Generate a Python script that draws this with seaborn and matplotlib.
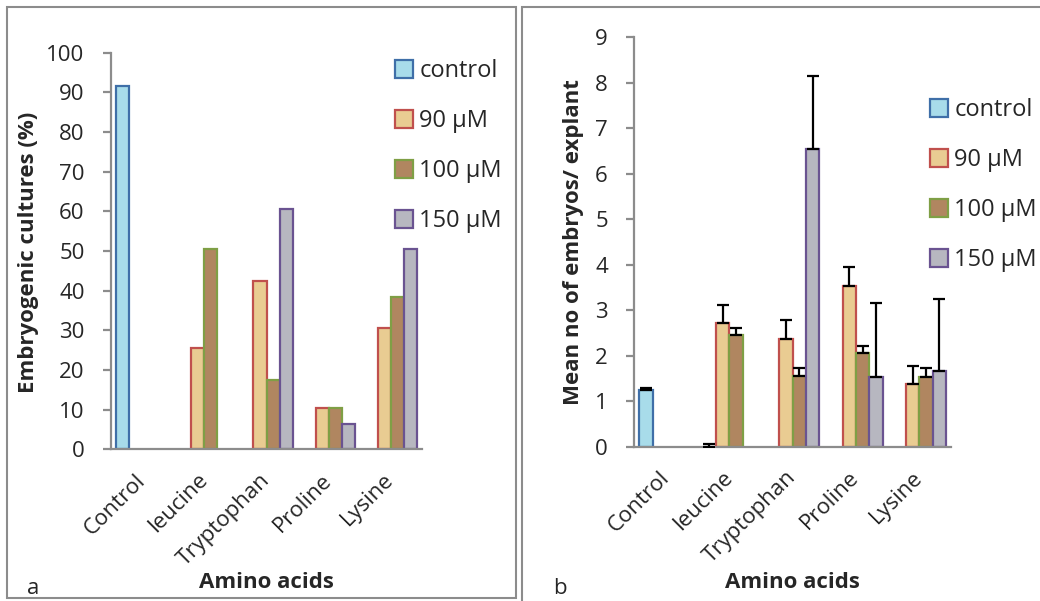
import numpy as np
import pandas as pd
import matplotlib
matplotlib.use("Agg")
import matplotlib.pyplot as plt
import seaborn as sns
from matplotlib.patches import Rectangle, Patch

categories = ["Control", "leucine", "Tryptophan", "Proline", "Lysine"]
series = ["control", "90 µM", "100 µM", "150 µM"]

# Panel a: embryogenic cultures (%)
pct_control = [91.5, 0, 0, 0, 0]
pct_90 = [0, 25.5, 42.5, 10.5, 30.5]
pct_100 = [0, 50.5, 17.5, 10.5, 38.5]
pct_150 = [0, 0, 60.5, 6.5, 50.5]

# Panel b: mean no of embryos / explant, with upper error bars
mean_control = [1.25, 0, 0, 0, 0]
mean_90 = [0, 2.73, 2.36, 3.54, 1.37]
mean_100 = [0, 2.45, 1.55, 2.05, 1.54]
mean_150 = [0, 0, 6.55, 1.54, 1.66]
err_control = [0.03, 0.07, 0, 0, 0]
err_90 = [0, 0.39, 0.42, 0.42, 0.41]
err_100 = [0, 0.17, 0.17, 0.17, 0.18]
err_150 = [0, 0, 1.60, 1.62, 1.59]

fills = ["#a8dcea", "#e9cc92", "#b08660", "#b7b7c0"]
edges = ["#3f6fa8", "#c0504d", "#7f9f45", "#6a5391"]

sns.set_style("white")
plt.rcParams["font.family"] = ["Open Sans", "DejaVu Sans"]

W, H = 1040, 601
fig = plt.figure(figsize=(W / 100, H / 100), dpi=100)


def long_df(vals, errs=None):
    rows = []
    for s_i, s in enumerate(series):
        for c_i, c in enumerate(categories):
            rows.append({"category": c, "series": s, "value": vals[s_i][c_i],
                         "err": (errs[s_i][c_i] if errs else 0.0)})
    return pd.DataFrame(rows)


def draw_panel(ax, df, ymax, ystep, with_err):
    sns.barplot(data=df, x="category", y="value", hue="series", order=categories,
                hue_order=series, palette=fills, width=0.84, errorbar=None,
                ax=ax, legend=False, linewidth=1.6, saturation=1)
    bar_conts = list(ax.containers)[:len(series)]
    for s_i, cont in enumerate(bar_conts):
        for p in cont.patches:
            p.set_edgecolor(edges[s_i])
            if p.get_height() == 0:
                p.set_visible(False)
    if with_err:
        for s_i, cont in enumerate(bar_conts):
            sub = df[df["series"] == series[s_i]].set_index("category").loc[categories]
            xs, ys, es = [], [], []
            for p, v, e in zip(cont.patches, sub["value"], sub["err"]):
                if e > 0:
                    xs.append(p.get_x() + p.get_width() / 2)
                    ys.append(v)
                    es.append(e)
            if xs:
                ax.errorbar(xs, ys, yerr=[np.zeros(len(es)), es], fmt="none",
                            ecolor="black", elinewidth=1.6, capsize=4.5,
                            capthick=1.6, zorder=5)
    ax.set_xlim(-0.5, len(categories) - 0.5)
    ax.set_ylim(0, ymax)
    ax.set_yticks(np.arange(0, ymax + ystep / 2, ystep))
    ax.set_xlabel("")
    ax.set_ylabel("")
    for sp in ["top", "right"]:
        ax.spines[sp].set_visible(False)
    for sp in ["left", "bottom"]:
        ax.spines[sp].set_color("#8c8c8c")
        ax.spines[sp].set_linewidth(1.6)
    ax.tick_params(axis="y", length=6, width=1.6, color="#8c8c8c",
                   labelsize=16, pad=13, direction="out", left=True)
    ax.tick_params(axis="x", length=0, labelsize=16, pad=20)
    ax.set_xticks(range(len(categories)))
    ax.set_xticklabels(categories, rotation=45, ha="right", va="center",
                       rotation_mode="anchor")
    handles = [Patch(facecolor=fills[i], edgecolor=edges[i], linewidth=1.6,
                     label=series[i]) for i in range(len(series))]
    return handles


LEG = dict(frameon=False, fontsize=17, borderpad=0, borderaxespad=0,
           handlelength=0.78, handleheight=0.78, handletextpad=0.25,
           labelspacing=1.10)

# Panel a
ax1 = fig.add_axes([111 / W, 1 - 449.3 / H, 311 / W, (449.3 - 52.6) / H])
df1 = long_df([pct_control, pct_90, pct_100, pct_150])
h1 = draw_panel(ax1, df1, 100, 10, False)
ax1.legend(handles=h1, loc="upper left", bbox_to_anchor=(395 / W, 1 - 59 / H),
           bbox_transform=fig.transFigure, **LEG)

# Panel b
ax2 = fig.add_axes([634.3 / W, 1 - 446.7 / H, 316.7 / W, (446.7 - 37.3) / H])
df2 = long_df([mean_control, mean_90, mean_100, mean_150],
              [err_control, err_90, err_100, err_150])
h2 = draw_panel(ax2, df2, 9, 1, True)
ax2.legend(handles=h2, loc="upper left", bbox_to_anchor=(930 / W, 1 - 98 / H),
           bbox_transform=fig.transFigure, **LEG)

# Axis titles
fig.text(29 / W, 1 - 252 / H, "Embryogenic cultures (%)", rotation=90,
         ha="center", va="center", fontsize=16, fontweight="bold")
fig.text(573 / W, 1 - 242 / H, "Mean no of embryos/ explant", rotation=90,
         ha="center", va="center", fontsize=16, fontweight="bold")
fig.text(266 / W, 1 - 582 / H, "Amino acids", ha="center", va="center",
         fontsize=16, fontweight="bold")
fig.text(792 / W, 1 - 582 / H, "Amino acids", ha="center", va="center",
         fontsize=16, fontweight="bold")
fig.text(33 / W, 1 - 588 / H, "a", ha="center", va="center", fontsize=16)
fig.text(560 / W, 1 - 588 / H, "b", ha="center", va="center", fontsize=16)

# Panel frames
fig.add_artist(Rectangle((7 / W, 1 - 598 / H), (516 - 7) / W, (598 - 7.3) / H,
                         transform=fig.transFigure, fill=False,
                         edgecolor="#8c8c8c", linewidth=1.5))
fig.add_artist(Rectangle((522 / W, -0.1), 0.6, 1.1 - 7.3 / H,
                         transform=fig.transFigure, fill=False,
                         edgecolor="#8c8c8c", linewidth=1.5))

fig.savefig("out.png", dpi=100)
